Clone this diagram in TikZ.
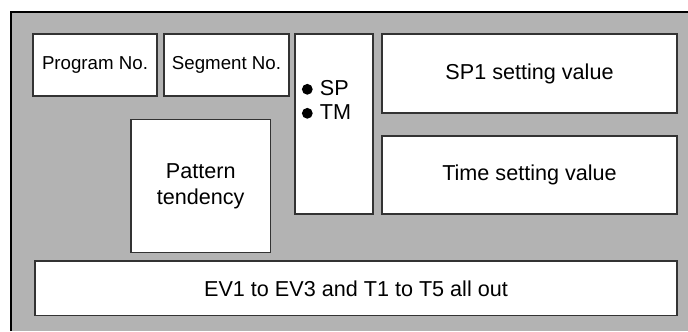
\documentclass[tikz,border=0pt]{standalone}
\usepackage{fontspec}
\setmainfont{Liberation Sans}
\usetikzlibrary{positioning}
\definecolor{panel}{HTML}{B3B3B3}
\definecolor{edge}{HTML}{333333}
\tikzset{
  field/.style={draw=edge,fill=white,line width=0.6pt,inner sep=0pt,align=center,
    font=\fontsize{10.8}{13}\selectfont},
  smallfield/.style={field,font=\fontsize{9.35}{11}\selectfont},
  dot/.style={circle,fill=black,inner sep=0pt,minimum size=5.4pt},
  tag/.style={anchor=base west,inner sep=0pt,font=\fontsize{10.8}{13}\selectfont}
}
\begin{document}
\begin{tikzpicture}[x=0.5pt,y=-0.5pt]
  \useasboundingbox (0,0) rectangle (688,331);
  % display panel
  \fill[panel] (10.8,11.8) rectangle (688,331);
  \draw[line width=1.25pt] (10.8,331) -- (10.8,11.8) -- (688,11.8);
  % top row
  \node (prog) [smallfield,minimum width=62pt,minimum height=31pt] at (95,65) {Program No.};
  \node (seg) [smallfield,minimum width=62.5pt,minimum height=31pt] at (226.5,65) {Segment No.};
  \node (pat) [field,minimum width=69.75pt,minimum height=66.5pt] at (200.7,186)
       {Pattern\\tendency};
  % SP / TM selector
  \node (sel) [field,minimum width=39pt,minimum height=90pt] at (334,124) {};
  \node (spdot) [dot] at (307.3,89.3) {};
  \node (sp) [tag] at (319.5,95.7) {SP};
  \node (tmdot) [dot] at (307.3,113.3) {};
  \node (tm) [tag] at (319.5,119.7) {TM};
  % setting values
  \node (sp1) [field,minimum width=147.5pt,minimum height=39.5pt] at (529.5,73.5)
       {SP1 setting value};
  \node (time) [field,minimum width=147.5pt,minimum height=39pt] at (529.5,175)
       {Time setting value};
  % outputs
  \node (ev) [field,minimum width=321pt,minimum height=27.25pt] at (356,288.3)
       {EV1 to EV3 and T1 to T5 all out};
\end{tikzpicture}
\end{document}
